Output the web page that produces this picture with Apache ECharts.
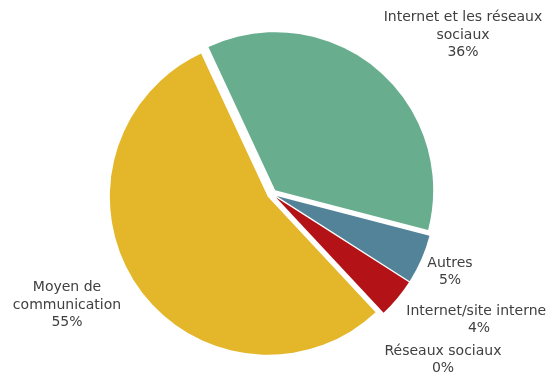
<!DOCTYPE html>
<html><head><meta charset="utf-8">
<script src="https://cdn.jsdelivr.net/npm/echarts@6/dist/echarts.min.js"></script>
<style>html,body{margin:0;padding:0;background:#fff}#c{width:546px;height:373px}</style>
</head><body><div id="c"></div>
<script>
var categories = ['Internet et les réseaux sociaux', 'Autres', 'Internet/site internet', 'Réseaux sociaux', 'Moyen de communication'];
var labelNames = ['Internet et les réseaux\nsociaux', 'Autres', 'Internet/site internet', 'Réseaux sociaux', 'Moyen de\ncommunication'];
var values = [36, 5, 4, 0, 55];
var colors = ['#69ad8f', '#528399', '#b31317', '#8064a2', '#e4b62a'];
var labelPos = [[463, 35], [450, 272], [479, 320], [443, 360], [67, 305]];

var chart = echarts.init(document.getElementById('c'), null, {renderer: 'canvas'});
var data = values.map(function (v, i) {
  return {name: categories[i], value: v, selected: true, itemStyle: {color: colors[i]}};
});
var texts = values.map(function (v, i) {
  return {
    type: 'text', x: labelPos[i][0], y: labelPos[i][1], silent: true,
    style: {text: labelNames[i] + '\n' + v + '%', fill: '#404040', font: '14px "DejaVu Sans"',
      lineHeight: 17.5, align: 'center', verticalAlign: 'middle'}
  };
});
chart.setOption({
  animation: false,
  graphic: texts,
  series: [{
    type: 'pie',
    center: [272, 194],
    radius: 158,
    startAngle: 115,
    clockwise: true,
    selectedMode: 'multiple',
    selectedOffset: 5,
    stillShowZeroSum: true,
    emphasis: {disabled: true},
    itemStyle: {borderWidth: 0},
    label: {show: false},
    labelLine: {show: false},
    data: data
  }]
});
</script></body></html>
